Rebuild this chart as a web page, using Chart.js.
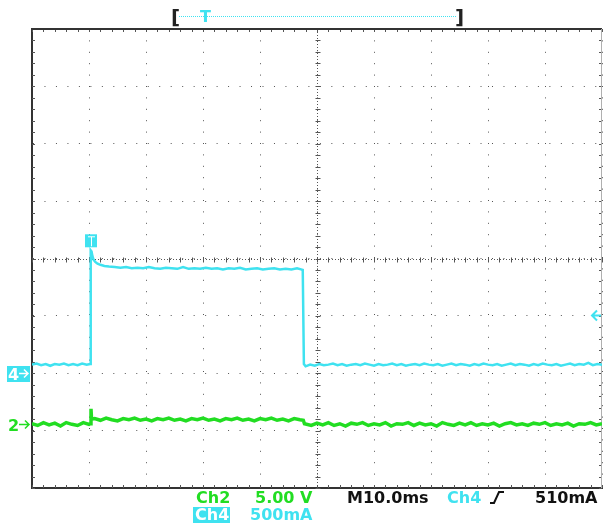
<!DOCTYPE html>
<html>
<head>
<meta charset="utf-8">
<script src="https://cdn.jsdelivr.net/npm/chart.js@4.4.0/dist/chart.umd.min.js"></script>
<style>
  body { margin: 0; background: #fff; }
  canvas { display: block; }
</style>
</head>
<body>
<canvas id="scope" width="603" height="525"></canvas>
<script>
// screen is 10 x 8 divisions, everything below is in divisions
// (x: 0..10 left to right, y: -4..4 bottom to top)

// Ch4 current probe trace [time, level]
const ch4Points = [
  [0.00, -1.85], [0.08, -1.83], [0.16, -1.86], [0.24, -1.84], [0.32, -1.87],
  [0.40, -1.84], [0.48, -1.85], [0.56, -1.83], [0.64, -1.86], [0.72, -1.84],
  [0.80, -1.86], [0.88, -1.83], [0.96, -1.85], [1.02, -1.84],
  [1.03, 0.14], [1.045, 0.12], [1.06, 0.04], [1.08, -0.02], [1.11, -0.06],
  [1.15, -0.09], [1.20, -0.11], [1.27, -0.13], [1.35, -0.14], [1.45, -0.15],
  [1.55, -0.16], [1.65, -0.15], [1.75, -0.17], [1.85, -0.16], [1.95, -0.17],
  [2.05, -0.15], [2.15, -0.17], [2.25, -0.18], [2.35, -0.16], [2.45, -0.17],
  [2.55, -0.18], [2.65, -0.15], [2.75, -0.18], [2.85, -0.17], [2.95, -0.18],
  [3.05, -0.16], [3.15, -0.18], [3.25, -0.17], [3.35, -0.19], [3.45, -0.17],
  [3.55, -0.18], [3.65, -0.16], [3.75, -0.19], [3.85, -0.18], [3.95, -0.17],
  [4.05, -0.19], [4.15, -0.18], [4.25, -0.17], [4.35, -0.19], [4.45, -0.18],
  [4.55, -0.19], [4.65, -0.17], [4.72, -0.19], [4.75, -0.20],
  [4.77, -1.84], [4.80, -1.88], [4.88, -1.85], [4.96, -1.87], [5.04, -1.84],
  [5.12, -1.86], [5.20, -1.85], [5.28, -1.83], [5.36, -1.86], [5.44, -1.84],
  [5.52, -1.87], [5.60, -1.85], [5.68, -1.84], [5.76, -1.86], [5.84, -1.83],
  [5.92, -1.85], [6.00, -1.87], [6.08, -1.84], [6.16, -1.86], [6.24, -1.85],
  [6.32, -1.83], [6.40, -1.86], [6.48, -1.84], [6.56, -1.87], [6.64, -1.85],
  [6.72, -1.84], [6.80, -1.86], [6.88, -1.83], [6.96, -1.85], [7.04, -1.86],
  [7.12, -1.84], [7.20, -1.87], [7.28, -1.85], [7.36, -1.83], [7.44, -1.86],
  [7.52, -1.84], [7.60, -1.85], [7.68, -1.87], [7.76, -1.84], [7.84, -1.86],
  [7.92, -1.83], [8.00, -1.85], [8.08, -1.86], [8.16, -1.84], [8.24, -1.87],
  [8.32, -1.85], [8.40, -1.83], [8.48, -1.86], [8.56, -1.84], [8.64, -1.85],
  [8.72, -1.87], [8.80, -1.84], [8.88, -1.86], [8.96, -1.83], [9.04, -1.85],
  [9.12, -1.86], [9.20, -1.84], [9.28, -1.87], [9.36, -1.85], [9.44, -1.83],
  [9.52, -1.86], [9.60, -1.84], [9.68, -1.85], [9.76, -1.82], [9.84, -1.86],
  [9.92, -1.84], [10.00, -1.85]
];

// Ch2 voltage trace [time, level]
const ch2Points = [
  [0.0, -2.88], [0.1, -2.91], [0.2, -2.86], [0.3, -2.90], [0.4, -2.87],
  [0.5, -2.92], [0.6, -2.86], [0.7, -2.89], [0.8, -2.91], [0.9, -2.86],
  [1.0, -2.89], [1.025, -2.88], [1.035, -2.62], [1.045, -2.80],
  [1.1, -2.79], [1.2, -2.82], [1.3, -2.78], [1.4, -2.81], [1.5, -2.83],
  [1.6, -2.79], [1.7, -2.81], [1.8, -2.78], [1.9, -2.82], [2.0, -2.80],
  [2.1, -2.83], [2.2, -2.79], [2.3, -2.81], [2.4, -2.78], [2.5, -2.82],
  [2.6, -2.80], [2.7, -2.83], [2.8, -2.79], [2.9, -2.81], [3.0, -2.78],
  [3.1, -2.82], [3.2, -2.80], [3.3, -2.83], [3.4, -2.79], [3.5, -2.81],
  [3.6, -2.78], [3.7, -2.82], [3.8, -2.80], [3.9, -2.83], [4.0, -2.79],
  [4.1, -2.81], [4.2, -2.78], [4.3, -2.82], [4.4, -2.80], [4.5, -2.83],
  [4.6, -2.79], [4.7, -2.81], [4.76, -2.82], [4.78, -2.88],
  [4.9, -2.91], [5.0, -2.87], [5.1, -2.90], [5.2, -2.86], [5.3, -2.91],
  [5.4, -2.88], [5.5, -2.92], [5.6, -2.87], [5.7, -2.89], [5.8, -2.86],
  [5.9, -2.91], [6.0, -2.88], [6.1, -2.90], [6.2, -2.86], [6.3, -2.92],
  [6.4, -2.88], [6.5, -2.89], [6.6, -2.86], [6.7, -2.91], [6.8, -2.87],
  [6.9, -2.90], [7.0, -2.88], [7.1, -2.92], [7.2, -2.86], [7.3, -2.89],
  [7.4, -2.91], [7.5, -2.87], [7.6, -2.90], [7.7, -2.86], [7.8, -2.91],
  [7.9, -2.88], [8.0, -2.90], [8.1, -2.87], [8.2, -2.92], [8.3, -2.88],
  [8.4, -2.86], [8.5, -2.90], [8.6, -2.88], [8.7, -2.91], [8.8, -2.87],
  [8.9, -2.89], [9.0, -2.86], [9.1, -2.91], [9.2, -2.88], [9.3, -2.90],
  [9.4, -2.87], [9.5, -2.92], [9.6, -2.88], [9.7, -2.89], [9.8, -2.86],
  [9.9, -2.90], [10.0, -2.88]
];

// markers
const ch4Ground = -2.0;
const ch2Ground = -2.88;
const triggerTime = 1.035;
const triggerMarkLevel = 0.30;
const triggerLevel = -0.98;

// readout texts
const readoutRow1 = ["Ch2", "5.00 V", "M10.0ms", "Ch4", "510mA"];
const readoutRow2 = ["Ch4", "500mA"];

const CYAN = "#3fe2f0";
const GREEN = "#22dd22";
const GRID = "#555";
const FONT = "bold 16px 'DejaVu Sans'";

function arrowRight(ctx, x0, x1, yy) {
  ctx.beginPath();
  ctx.moveTo(x0, yy); ctx.lineTo(x1, yy);
  ctx.moveTo(x1 - 4, yy - 4); ctx.lineTo(x1, yy); ctx.lineTo(x1 - 4, yy + 4);
  ctx.stroke();
}

// center lines, small division ticks, frame and readouts
const scopeDecor = {
  id: "scopeDecor",
  beforeDatasetsDraw(chart) {
    const { ctx, chartArea: a, scales: { x, y } } = chart;
    const cx = Math.round(x.getPixelForValue(5)) + 0.5;
    const cy = Math.round(y.getPixelForValue(0)) + 0.5;
    ctx.save();
    ctx.strokeStyle = GRID;
    ctx.lineWidth = 1;

    ctx.setLineDash([1, 2]);
    ctx.beginPath();
    ctx.moveTo(cx, a.top); ctx.lineTo(cx, a.bottom);
    ctx.moveTo(a.left, cy); ctx.lineTo(a.right, cy);
    ctx.stroke();
    ctx.setLineDash([]);

    ctx.beginPath();
    for (let i = 0; i <= 50; i++) {
      const px = Math.round(x.getPixelForValue(i / 5)) + 0.5;
      ctx.moveTo(px, cy - 2); ctx.lineTo(px, cy + 3);
      ctx.moveTo(px, a.top); ctx.lineTo(px, a.top + 3);
      ctx.moveTo(px, a.bottom - 3); ctx.lineTo(px, a.bottom);
    }
    for (let i = -20; i <= 20; i++) {
      const py = Math.round(y.getPixelForValue(i / 5)) + 0.5;
      ctx.moveTo(cx - 2, py); ctx.lineTo(cx + 3, py);
      ctx.moveTo(a.left, py); ctx.lineTo(a.left + 3, py);
      ctx.moveTo(a.right - 3, py); ctx.lineTo(a.right, py);
    }
    ctx.stroke();

    // top and right edges of the screen
    ctx.strokeStyle = "#333";
    ctx.lineWidth = 2;
    ctx.beginPath();
    ctx.moveTo(a.left - 1, a.top); ctx.lineTo(a.right, a.top);
    ctx.stroke();
    ctx.strokeStyle = "#b0b0b0";
    ctx.lineWidth = 1;
    ctx.beginPath();
    ctx.moveTo(a.right - 0.5, a.top); ctx.lineTo(a.right - 0.5, a.bottom);
    ctx.stroke();
    ctx.restore();
  },
  afterDraw(chart) {
    const { ctx, scales: { x, y } } = chart;
    ctx.save();
    ctx.font = FONT;
    ctx.textBaseline = "alphabetic";

    // trigger position bar on top
    ctx.fillStyle = "#222";
    ctx.font = "bold 20px 'DejaVu Sans'";
    ctx.fillText("[", 171, 24);
    ctx.fillText("]", 455, 24);
    ctx.font = FONT;
    ctx.strokeStyle = CYAN;
    ctx.lineWidth = 1;
    ctx.setLineDash([1, 1]);
    ctx.beginPath();
    ctx.moveTo(179, 16.5); ctx.lineTo(456, 16.5);
    ctx.stroke();
    ctx.setLineDash([]);
    ctx.fillStyle = CYAN;
    ctx.fillText("T", 200, 22);

    // trigger mark on the trace
    const tx = x.getPixelForValue(triggerTime);
    const ty = y.getPixelForValue(triggerMarkLevel);
    ctx.fillStyle = CYAN;
    ctx.fillRect(tx - 6, ty - 7, 12, 13);
    ctx.strokeStyle = "#fff";
    ctx.lineWidth = 1;
    ctx.beginPath();
    ctx.moveTo(tx - 3, ty - 4.5); ctx.lineTo(tx + 4, ty - 4.5);
    ctx.moveTo(tx + 0.5, ty - 4.5); ctx.lineTo(tx + 0.5, ty + 5);
    ctx.stroke();

    // ground markers on the left
    const g4 = Math.round(y.getPixelForValue(ch4Ground)) + 0.5;
    ctx.fillStyle = CYAN;
    ctx.fillRect(7, g4 - 7.5, 23, 16);
    ctx.fillStyle = "#fff";
    ctx.fillText("4", 8, g4 + 6);
    ctx.strokeStyle = "#fff";
    ctx.lineWidth = 1.5;
    arrowRight(ctx, 19, 28, g4);
    const g2 = Math.round(y.getPixelForValue(ch2Ground)) + 0.5;
    ctx.fillStyle = GREEN;
    ctx.fillText("2", 8, g2 + 6);
    ctx.strokeStyle = GREEN;
    arrowRight(ctx, 19, 29, g2);

    // trigger level arrow on the right
    const tl = Math.round(y.getPixelForValue(triggerLevel)) + 0.5;
    ctx.strokeStyle = CYAN;
    ctx.lineWidth = 2;
    ctx.beginPath();
    ctx.moveTo(597, tl - 5); ctx.lineTo(592, tl); ctx.lineTo(597, tl + 5);
    ctx.moveTo(592, tl); ctx.lineTo(601, tl);
    ctx.stroke();

    // readouts
    ctx.fillStyle = GREEN;
    ctx.fillText(readoutRow1[0], 196, 503);
    ctx.fillText(readoutRow1[1], 255, 503);
    ctx.fillStyle = "#111";
    ctx.fillText(readoutRow1[2], 347, 503);
    ctx.fillStyle = CYAN;
    ctx.fillText(readoutRow1[3], 447, 503);
    ctx.fillStyle = "#111";
    ctx.fillText(readoutRow1[4], 535, 503);
    ctx.strokeStyle = "#111";
    ctx.lineWidth = 2;
    ctx.beginPath();
    ctx.moveTo(490, 503); ctx.lineTo(494, 503);
    ctx.lineTo(499, 492); ctx.lineTo(504, 492);
    ctx.stroke();

    ctx.fillStyle = CYAN;
    ctx.fillRect(193, 507, 37, 16);
    ctx.fillStyle = "#fff";
    ctx.fillText(readoutRow2[0], 195, 520);
    ctx.fillStyle = CYAN;
    ctx.fillText(readoutRow2[1], 250, 520);
    ctx.restore();
  }
};

new Chart(document.getElementById("scope").getContext("2d"), {
  type: "line",
  data: {
    datasets: [
      {
        label: "Ch2",
        data: ch2Points.map(([t, v]) => ({ x: t, y: v })),
        borderColor: GREEN,
        borderWidth: 3.5,
        pointRadius: 0,
        tension: 0,
      },
      {
        label: "Ch4",
        data: ch4Points.map(([t, v]) => ({ x: t, y: v })),
        borderColor: CYAN,
        borderWidth: 2.5,
        pointRadius: 0,
        tension: 0,
      },
    ],
  },
  options: {
    responsive: false,
    animation: false,
    events: [],
    layout: { padding: { left: 32, top: 29, right: 1, bottom: 37 } },
    plugins: {
      legend: { display: false },
      tooltip: { enabled: false },
    },
    scales: {
      x: {
        type: "linear",
        min: 0,
        max: 10,
        ticks: { display: false, stepSize: 1 },
        grid: { color: GRID, drawTicks: false },
        border: { color: "#333", width: 2, dash: [1, 10.4] },
      },
      y: {
        type: "linear",
        min: -4,
        max: 4,
        ticks: { display: false, stepSize: 1 },
        grid: { color: GRID, drawTicks: false },
        border: { color: "#333", width: 2, dash: [1, 10.475] },
      },
    },
  },
  plugins: [scopeDecor],
});
</script>
</body>
</html>
